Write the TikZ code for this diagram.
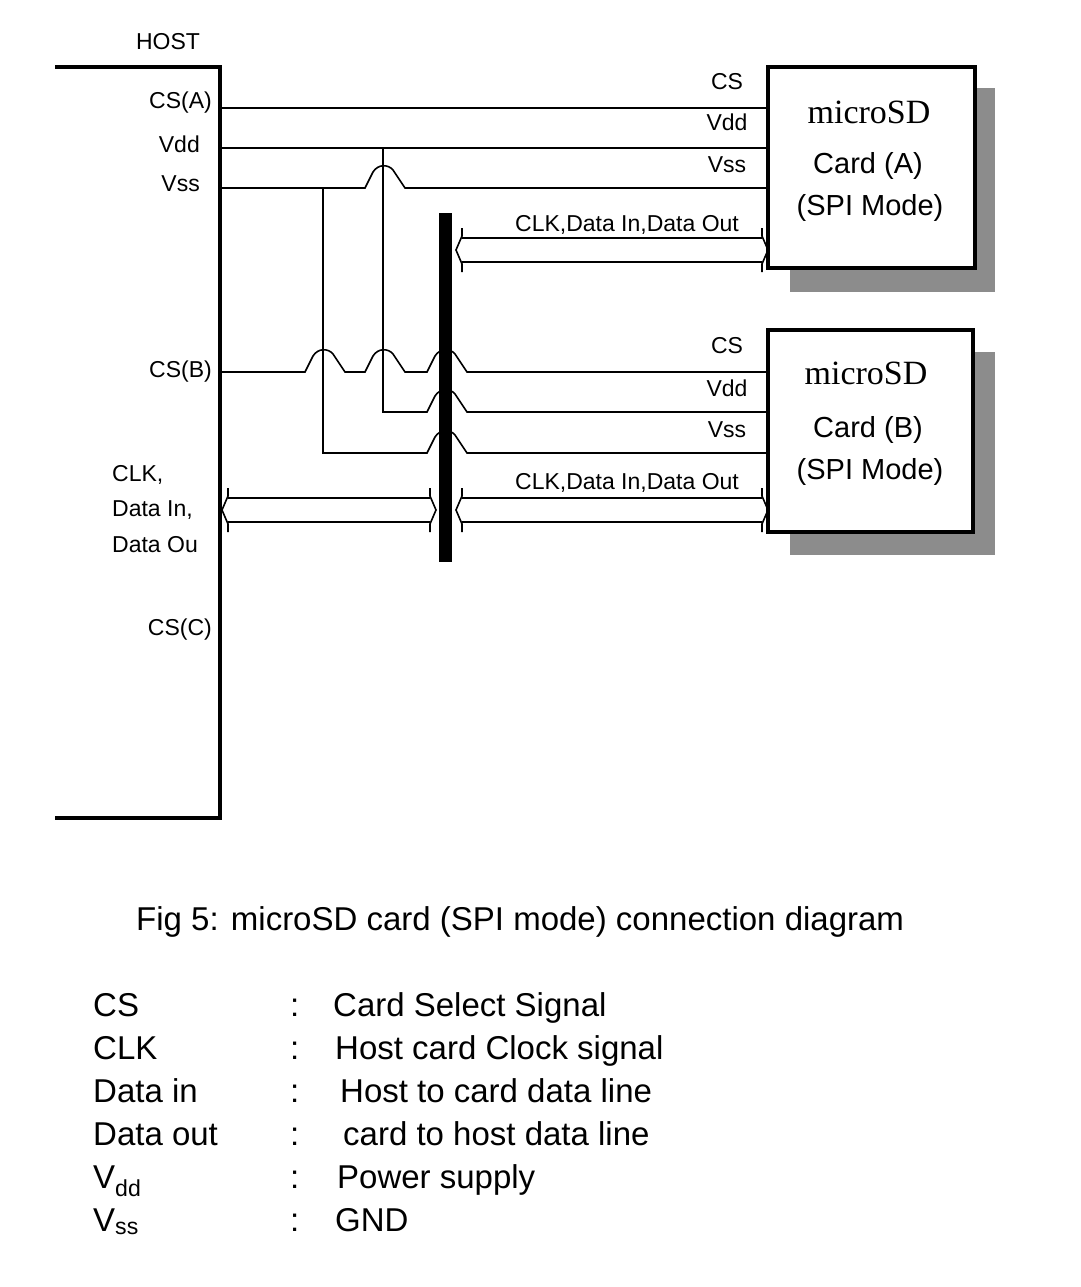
\documentclass[tikz,border=0pt]{standalone}
\usepackage{fontspec}
\setmainfont{Liberation Sans}
\newfontfamily\serifcard{Liberation Serif}
\usetikzlibrary{arrows.meta}
\newcommand\mydbus[3]{%
  \draw[wire] (#1+6,#3-12) -- (#2-6,#3-12);
  \draw[wire] (#1+6,#3+12) -- (#2-6,#3+12);
  \draw[wire] (#1+6,#3-22) -- (#1+6,#3-14) -- (#1,#3) -- (#1+6,#3+14) -- (#1+6,#3+22);
  \draw[wire] (#2-6,#3-22) -- (#2-6,#3-14) -- (#2,#3) -- (#2-6,#3+14) -- (#2-6,#3+22);}
\begin{document}
\begin{tikzpicture}[x=1pt,y=-1pt,
  lbl/.style={font=\fontsize{23}{26}\selectfont,inner sep=0pt},
  card/.style={font=\fontsize{29}{32}\selectfont,inner sep=0pt},
  captxt/.style={font=\fontsize{33}{36}\selectfont,inner sep=0pt,anchor=base west},
  wire/.style={line width=1.6pt},
  thick box/.style={line width=3.5pt},
  shadow/.style={fill=black!45,draw=none}]
\useasboundingbox (0,0) rectangle (1080,1287);
% host
\draw[thick box] (55,67) -- (220,67) -- (220,818) -- (55,818);
\node[lbl] (host) at (168,42) {HOST};
\node[lbl,anchor=east] (csa) at (212,103) {CS(A)};
\node[lbl,anchor=east] (vdd) at (200,144) {Vdd};
\node[lbl,anchor=east] (vss) at (200,184) {Vss};
\node[lbl,anchor=east] (csb) at (212,372) {CS(B)};
\node[lbl,anchor=west] (clk) at (112,475) {CLK,};
\node[lbl,anchor=west] (din) at (112,510) {Data In,};
\node[lbl,anchor=west] (dout) at (112,545) {Data Ou};
\node[lbl,anchor=east] (csc) at (212,630) {CS(C)};
% cards
\fill[shadow] (790,88) rectangle (995,292);
\draw[thick box,fill=white] (768,67) rectangle (975,268);
\node[card,font=\fontsize{34}{36}\selectfont\serifcard] (ma) at (869,112) {microSD};
\node[card] (ca) at (868,166) {Card (A)};
\node[card] (sa) at (870,208) {(SPI Mode)};
\fill[shadow] (790,352) rectangle (995,555);
\draw[thick box,fill=white] (768,330) rectangle (973,532);
\node[card,font=\fontsize{34}{36}\selectfont\serifcard] (mb) at (866,373) {microSD};
\node[card] (cb) at (868,430) {Card (B)};
\node[card] (sb) at (870,472) {(SPI Mode)};
% labels
\node[lbl] (lcsa) at (727,82) {CS};
\node[lbl] (lvdda) at (727,122) {Vdd};
\node[lbl] (lvssa) at (727,165) {Vss};
\node[lbl] (lclka) at (627,225) {CLK,Data In,Data Out};
\node[lbl] (lcsb) at (727,346) {CS};
\node[lbl] (lvddb) at (727,388) {Vdd};
\node[lbl] (lvssb) at (727,430) {Vss};
\node[lbl] (lclkb) at (627,483) {CLK,Data In,Data Out};
% wires card A
\draw[wire] (220,108) -- (767,108);
\draw[wire] (220,148) -- (767,148);
\draw[wire] (220,188) -- (365,188) -- (373,172) .. controls (378,164) and (388,164) .. (393,170) -- (405,188) -- (767,188);
% verticals
\draw[wire] (383,148) -- (383,412) -- (427,412) -- (435,396) .. controls (440,388) and (450,388) .. (455,394) -- (467,412) -- (767,412);
\draw[wire] (323,188) -- (323,453) -- (427,453) -- (435,437) .. controls (440,429) and (450,429) .. (455,435) -- (467,453) -- (767,453);
\draw[wire] (220,372) -- (305,372) -- (313,356) .. controls (318,348) and (328,348) .. (333,354) -- (345,372)
  -- (365,372) -- (373,356) .. controls (378,348) and (388,348) .. (393,354) -- (405,372)
  -- (427,372) -- (435,356) .. controls (440,348) and (450,348) .. (455,354) -- (467,372) -- (767,372);
% bus bar
\fill (439,213) rectangle (452,562);
% buses
\mydbus{456}{768}{250}
\mydbus{456}{768}{510}
\mydbus{222}{436}{510}
% caption and legend
\node[captxt] (fig) at (136,930) {Fig 5: microSD card (SPI mode) connection diagram};
\foreach \a/\b/\c/\y/\cx [count=\i] in {CS/:/Card Select Signal/1016/333,
  CLK/:/Host card Clock signal/1059/335,
  Data in/:/Host to card data line/1102/340,
  Data out/:/card to host data line/1145/343,
  V\textsubscript{dd}/:/Power supply/1188/337,
  V\textsubscript{ss}/:/GND/1231/335}{
  \node[captxt] (k\i) at (93,\y) {\a};
  \node[captxt] (s\i) at (290,\y) {\b};
  \node[captxt] (d\i) at (\cx,\y) {\c};
}
\end{tikzpicture}
\end{document}
